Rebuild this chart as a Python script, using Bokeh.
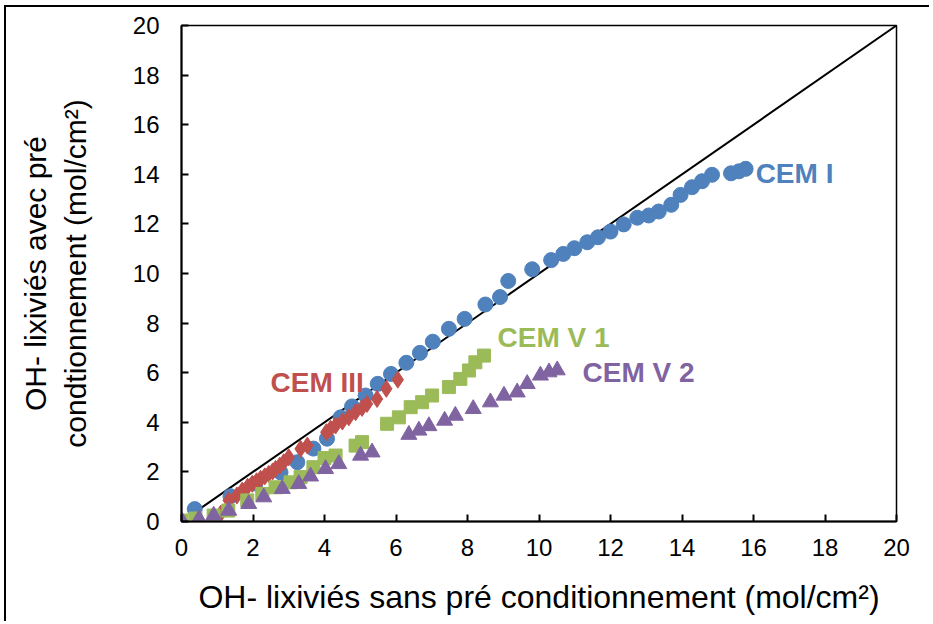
from bokeh.plotting import figure
from bokeh.models import Label, FixedTicker, Range1d
from bokeh.embed import file_html
from bokeh.resources import INLINE

# --- data ---
cem1_x = [0.37, 1.37, 2.07, 2.77, 3.24, 3.69, 4.07, 4.45, 4.77, 5.15, 5.49, 5.86, 6.29, 6.67,
          7.03, 7.48, 7.92, 8.50, 8.91, 9.14, 9.81, 10.34, 10.68, 10.99, 11.35, 11.65, 12.00,
          12.37, 12.75, 13.07, 13.35, 13.70, 13.96, 14.28, 14.56, 14.84, 15.37, 15.59, 15.78]
cem1_y = [0.50, 1.02, 1.53, 1.98, 2.39, 2.94, 3.34, 4.20, 4.64, 5.08, 5.55, 5.95, 6.40, 6.80,
          7.25, 7.77, 8.17, 8.75, 9.05, 9.70, 10.17, 10.54, 10.79, 11.02, 11.26, 11.46, 11.69,
          11.98, 12.25, 12.34, 12.50, 12.77, 13.17, 13.48, 13.72, 13.98, 14.04, 14.12, 14.22]

cem3_x = [1.10, 1.32, 1.55, 1.70, 1.85, 1.98, 2.10, 2.21, 2.33, 2.44, 2.55, 2.63, 2.75, 2.86,
          3.00, 3.33, 3.52, 4.05, 4.17, 4.31, 4.50, 4.68, 4.87, 5.05, 5.19, 5.47, 5.73, 6.05]
cem3_y = [0.32, 0.85, 1.05, 1.25, 1.40, 1.52, 1.62, 1.72, 1.82, 1.92, 2.02, 2.12, 2.25, 2.39,
          2.59, 2.93, 3.06, 3.60, 3.74, 3.87, 4.03, 4.20, 4.41, 4.58, 4.74, 4.94, 5.35, 5.72]

cemv1_x = [0.00, 0.39, 0.90, 1.31, 1.84, 2.26, 2.63, 3.05, 3.33, 3.69, 4.00, 4.31, 4.87, 5.05,
           5.75, 6.08, 6.41, 6.73, 7.01, 7.48, 7.80, 8.04, 8.22, 8.46]
cemv1_y = [0.04, 0.12, 0.24, 0.44, 0.85, 1.11, 1.38, 1.58, 1.79, 2.19, 2.56, 2.66, 3.06, 3.20,
           3.94, 4.20, 4.61, 4.81, 5.08, 5.42, 5.75, 6.09, 6.42, 6.69]

cemv2_x = [0.02, 0.49, 0.90, 1.32, 1.88, 2.30, 2.82, 3.28, 3.61, 4.03, 4.40, 5.01, 5.33,
           6.36, 6.64, 6.92, 7.36, 7.66, 8.16, 8.64, 9.02, 9.39, 9.67, 10.04, 10.28, 10.51]
cemv2_y = [0.00, 0.10, 0.24, 0.44, 0.71, 0.98, 1.32, 1.52, 1.82, 2.12, 2.32, 2.66, 2.79,
           3.50, 3.67, 3.85, 4.07, 4.27, 4.54, 4.81, 5.08, 5.21, 5.55, 5.89, 6.02, 6.10]

diag_x = [0.5, 20]
diag_y = [0.5, 20]

ticks = [0, 2, 4, 6, 8, 10, 12, 14, 16, 18, 20]

BLUE = "#4F81BD"
RED = "#C0504D"
GREEN = "#9BBB59"
PURPLE = "#8064A2"
FONT = "Liberation Sans"

p = figure(width=925, height=616, output_backend="svg", toolbar_location=None,
           x_range=Range1d(0, 20), y_range=Range1d(0, 20),
           min_border_left=175, min_border_right=35, min_border_top=18, min_border_bottom=102)
p.styles = {"border-left": "2px solid black", "border-top": "2px solid black",
            "margin-left": "4px", "margin-top": "5px"}

p.grid.visible = False
p.outline_line_color = "black"
p.outline_line_width = 1.5
p.outline_line_alpha = 1.0

for ax in (p.xaxis[0], p.yaxis[0]):
    ax.ticker = FixedTicker(ticks=ticks)
    ax.major_tick_in = 7
    ax.major_tick_out = 0
    ax.minor_tick_line_color = None
    ax.axis_line_width = 2
    ax.axis_line_color = "black"
    ax.major_tick_line_width = 2
    ax.major_tick_line_color = "black"
    ax.major_label_text_font = FONT
    ax.major_label_text_font_size = "24px"
    ax.major_label_text_color = "black"
    ax.axis_label_text_font = FONT
    ax.axis_label_text_font_style = "normal"
    ax.axis_label_text_color = "black"

p.xaxis.axis_label_text_font_size = "32px"
p.yaxis.axis_label_text_font_size = "30px"
p.xaxis.major_label_standoff = 17
p.yaxis.major_label_standoff = 22
p.xaxis.axis_label = "OH- lixiviés sans pré conditionnement (mol/cm²)"
p.xaxis.axis_label_standoff = 20
p.yaxis.axis_label = "OH- lixiviés avec pré\ncondtionnement (mol/cm²)"
p.yaxis.axis_label_standoff = 38

p.line(diag_x, diag_y, line_color="black", line_width=2)

p.scatter(cem1_x, cem1_y, marker="circle", size=15, fill_color=BLUE, line_color=BLUE)
p.scatter(cem3_x, cem3_y, marker="diamond", size=17, fill_color=RED, line_color=RED)
p.scatter(cemv1_x, cemv1_y, marker="square", size=13, fill_color=GREEN, line_color=GREEN)
p.scatter(cemv2_x, cemv2_y, marker="triangle", size=16, fill_color=PURPLE, line_color=PURPLE)

labels = [("CEM I", 16.06, 14.03, BLUE), ("CEM III", 2.49, 5.6, RED),
          ("CEM V 1", 8.84, 7.42, GREEN), ("CEM V 2", 11.22, 6.0, PURPLE)]
for txt, lx, ly, col in labels:
    p.add_layout(Label(x=lx, y=ly, text=txt, text_color=col, text_font=FONT,
                       text_font_size="28px", text_font_style="bold",
                       text_baseline="middle", text_align="left"))

open("out.html", "w").write(file_html(p, INLINE))
